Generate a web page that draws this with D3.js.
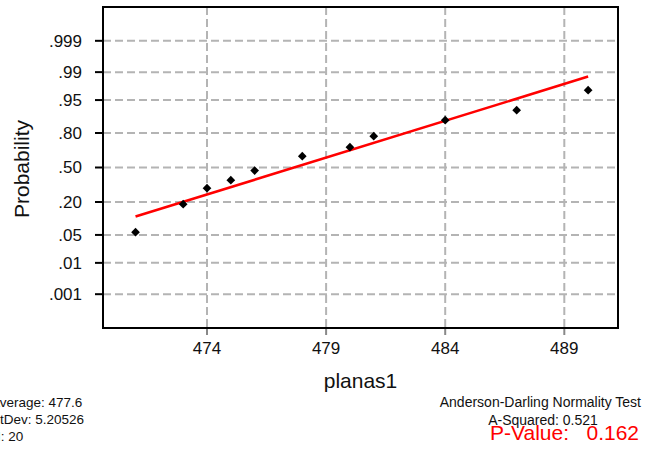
<!DOCTYPE html>
<html>
<head>
<meta charset="utf-8">
<script src="https://cdn.jsdelivr.net/npm/d3@7"></script>
<style>
  html, body { margin: 0; padding: 0; background: #fff; }
  svg { display: block; font-family: "Liberation Sans", Arial, Helvetica, sans-serif; }
</style>
</head>
<body>
<svg id="chart" width="648" height="452"></svg>
<script>
// Normal probability plot of planas1

const probTicks = [0.001, 0.01, 0.05, 0.20, 0.50, 0.80, 0.95, 0.99, 0.999];
const probTickLabels = [".001", ".01", ".05", ".20", ".50", ".80", ".95", ".99", ".999"];
const xTicks = [474, 479, 484, 489];

// observed values and their plotted cumulative probabilities
const planasValues = [471, 473, 474, 475, 476, 478, 480, 481, 484, 487, 490];
const planasProbs  = [0.0574, 0.1857, 0.3072, 0.3788, 0.4703, 0.609, 0.690, 0.7778, 0.876, 0.919, 0.9704];

// fitted distribution line, from min to max of the data
const fitX    = [471, 490];
const fitProb = [0.1158, 0.9867];

const statsLeft  = ["Average: 477.6", "StDev: 5.20526", "N: 20"];
const statsRight = ["Anderson-Darling Normality Test", "A-Squared: 0.521"];
const pValueText = "P-Value:   0.162";

// inverse of the standard normal CDF (Acklam's rational approximation)
function normInv(p) {
  const a = [-3.969683028665376e+01, 2.209460984245205e+02, -2.759285104469687e+02,
             1.383577518672690e+02, -3.066479806614716e+01, 2.506628277459239e+00];
  const b = [-5.447609879822406e+01, 1.615858368580409e+02, -1.556989798598866e+02,
             6.680131188771972e+01, -1.328068155288572e+01];
  const c = [-7.784894002430293e-03, -3.223964580411365e-01, -2.400758277161838e+00,
             -2.549732539343734e+00, 4.374664141464968e+00, 2.938163982698783e+00];
  const d = [7.784695709041462e-03, 3.224671290700398e-01, 2.445134137142996e+00,
             3.754408661907416e+00];
  const pl = 0.02425, ph = 1 - pl;
  let q, r;
  if (p < pl) {
    q = Math.sqrt(-2 * Math.log(p));
    return (((((c[0]*q+c[1])*q+c[2])*q+c[3])*q+c[4])*q+c[5]) /
           ((((d[0]*q+d[1])*q+d[2])*q+d[3])*q+1);
  } else if (p <= ph) {
    q = p - 0.5; r = q * q;
    return (((((a[0]*r+a[1])*r+a[2])*r+a[3])*r+a[4])*r+a[5])*q /
           (((((b[0]*r+b[1])*r+b[2])*r+b[3])*r+b[4])*r+1);
  } else {
    q = Math.sqrt(-2 * Math.log(1 - p));
    return -(((((c[0]*q+c[1])*q+c[2])*q+c[3])*q+c[4])*q+c[5]) /
            ((((d[0]*q+d[1])*q+d[2])*q+d[3])*q+1);
  }
}

const svg = d3.select("#chart");
const frame = { left: 103, right: 618, top: 7, bottom: 328 };

const x = d3.scaleLinear().domain([469.634, 491.254]).range([frame.left, frame.right]);
const z = d3.scaleLinear().domain([-3.915, 3.915]).range([frame.bottom, frame.top]);
const y = p => z(normInv(p));

const gridColor = "#b4b4b4";

// horizontal grid
svg.append("g").selectAll("line").data(probTicks).join("line")
  .attr("x1", frame.left).attr("x2", frame.right)
  .attr("y1", d => y(d)).attr("y2", d => y(d))
  .attr("stroke", gridColor).attr("stroke-width", 2)
  .attr("stroke-dasharray", "8,4");

// vertical grid
svg.append("g").selectAll("line").data(xTicks).join("line")
  .attr("x1", d => x(d)).attr("x2", d => x(d))
  .attr("y1", frame.top).attr("y2", frame.bottom)
  .attr("stroke", gridColor).attr("stroke-width", 2)
  .attr("stroke-dasharray", "8,4");

// y axis ticks and labels
const yAxis = svg.append("g");
yAxis.selectAll("line").data(probTicks).join("line")
  .attr("x1", frame.left - 8).attr("x2", frame.left)
  .attr("y1", d => y(d)).attr("y2", d => y(d))
  .attr("stroke", "#000").attr("stroke-width", 2);
yAxis.selectAll("text").data(probTicks).join("text")
  .attr("x", 82).attr("y", d => y(d)).attr("dy", "0.35em")
  .attr("text-anchor", "end").attr("font-size", 17).attr("fill", "#111")
  .text((d, i) => probTickLabels[i]);

// x axis ticks and labels
const xAxis = svg.append("g");
xAxis.selectAll("line").data(xTicks).join("line")
  .attr("x1", d => x(d)).attr("x2", d => x(d))
  .attr("y1", frame.bottom).attr("y2", frame.bottom + 7)
  .attr("stroke", "#888").attr("stroke-width", 2);
xAxis.selectAll("text").data(xTicks).join("text")
  .attr("x", d => x(d)).attr("y", 354)
  .attr("text-anchor", "middle").attr("font-size", 17).attr("fill", "#111")
  .text(d => d);

// plot frame
svg.append("rect")
  .attr("x", frame.left).attr("y", frame.top)
  .attr("width", frame.right - frame.left).attr("height", frame.bottom - frame.top)
  .attr("fill", "none").attr("stroke", "#000").attr("stroke-width", 2);

// fitted line
svg.append("path")
  .datum(fitX.map((v, i) => [v, fitProb[i]]))
  .attr("d", d3.line().x(d => x(d[0])).y(d => y(d[1])))
  .attr("stroke", "#ff0000").attr("stroke-width", 2.6).attr("fill", "none");

// data points (diamonds)
svg.append("g").selectAll("path")
  .data(planasValues.map((v, i) => [v, planasProbs[i]]))
  .join("path")
  .attr("d", d3.symbol().type(d3.symbolSquare).size(38))
  .attr("transform", d => `translate(${x(d[0])},${y(d[1])}) rotate(45)`)
  .attr("fill", "#000");

// axis titles
svg.append("text")
  .attr("x", (frame.left + frame.right) / 2).attr("y", 388)
  .attr("text-anchor", "middle").attr("font-size", 21).attr("fill", "#111")
  .text("planas1");
svg.append("text")
  .attr("transform", "translate(29,169) rotate(-90)")
  .attr("text-anchor", "middle").attr("font-size", 21).attr("fill", "#111")
  .text("Probability");

// summary statistics
svg.append("g").selectAll("text").data(statsLeft).join("text")
  .attr("x", -9).attr("y", (d, i) => 407 + i * 17)
  .attr("font-size", 13.5).attr("fill", "#111")
  .text(d => d);

svg.append("text")
  .attr("x", 641).attr("y", 407)
  .attr("text-anchor", "end").attr("font-size", 14).attr("fill", "#111")
  .text(statsRight[0]);
svg.append("text")
  .attr("x", 543).attr("y", 425)
  .attr("text-anchor", "middle").attr("font-size", 14).attr("fill", "#111")
  .text(statsRight[1]);
svg.append("text")
  .attr("x", 490).attr("y", 440)
  .attr("font-size", 21).attr("fill", "#ff0000")
  .style("white-space", "pre")
  .text(pValueText);
</script>
</body>
</html>
